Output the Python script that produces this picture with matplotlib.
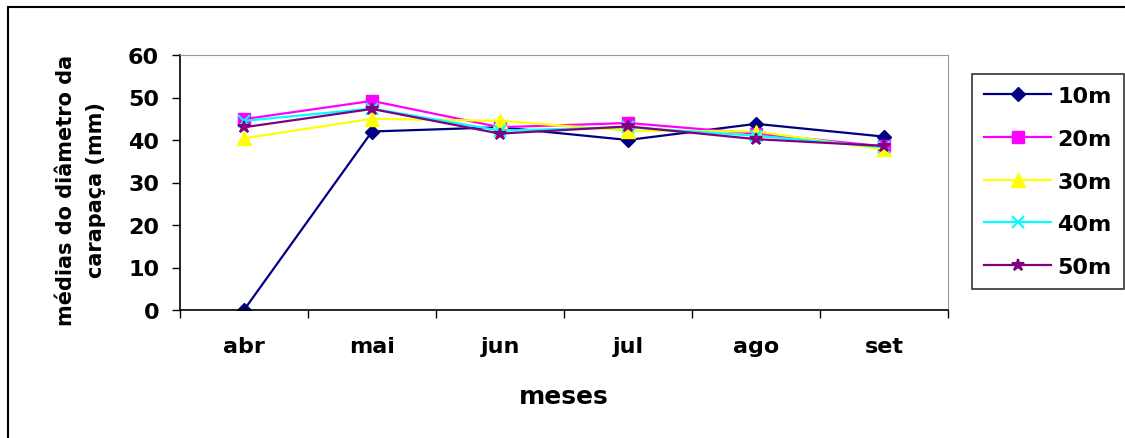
import matplotlib
matplotlib.use("Agg")
import matplotlib.pyplot as plt
from matplotlib.patches import Rectangle

plt.rcParams['font.family'] = ['DejaVu Sans']

months = ['abr', 'mai', 'jun', 'jul', 'ago', 'set']
depths = ['10m', '20m', '30m', '40m', '50m']
d10 = [0.0, 42.0, 43.0, 40.0, 43.8, 40.8]
d20 = [44.9, 49.2, 43.0, 44.0, 41.5, 38.5]
d30 = [40.4, 45.0, 44.5, 42.2, 42.0, 37.8]
d40 = [44.5, 47.4, 42.2, 43.0, 41.0, 38.3]
d50 = [43.0, 47.3, 41.5, 43.2, 40.2, 38.6]

series = [d10, d20, d30, d40, d50]
colors = ['#000080', '#FF00FF', '#FFFF00', '#00FFFF', '#800080']
markers = ['D', 's', '^', 'x', '*']
msizes = [7, 9, 10, 8, 9]

W, H = 1125, 439
fig = plt.figure(figsize=(W / 100, H / 100), dpi=100)

# outer frame (open at the right and bottom edges)
fig.patches.append(Rectangle((8 / W, -5 / H), 1130 / W, 436 / H, transform=fig.transFigure,
                             fill=False, edgecolor='black', linewidth=1.5))

ax = fig.add_axes([180 / W, 1 - 311 / H, 768 / W, 255 / H])
x = list(range(len(months)))
for vals, c, m, ms, lab in zip(series, colors, markers, msizes, depths):
    ax.plot(x, vals, color=c, marker=m, markersize=ms, linewidth=1.6,
            markeredgewidth=1.5 if m in ('x', '*') else 1.0, label=lab)

ax.set_xlim(-0.5, len(months) - 0.5)
ax.set_ylim(0, 60)
ax.set_yticks(range(0, 61, 10))
ax.set_yticklabels([str(v) for v in range(0, 61, 10)], fontsize=16, fontweight='bold')
ax.set_xticks(x)
ax.set_xticklabels(months, fontsize=16, fontweight='bold')
ax.set_xticks([i - 0.5 for i in range(len(months) + 1)], minor=True)
ax.tick_params(axis='x', which='major', length=0, pad=19)
ax.tick_params(axis='x', which='minor', length=6, width=1, direction='out')
ax.tick_params(axis='y', length=6, width=1, direction='out', pad=9)

for s in ('top', 'right'):
    ax.spines[s].set_color('#999999')
for s in ('left', 'bottom'):
    ax.spines[s].set_color('black')
    ax.spines[s].set_linewidth(1.2)

ax.set_xlabel('meses', fontsize=18, fontweight='bold', labelpad=20)
fig.text(81 / W, 1 - 190 / H, 'médias do diâmetro da\ncarapaça (mm)', rotation=90,
         ha='center', va='center', fontsize=15, fontweight='bold', linespacing=1.6)

leg = ax.legend(loc='upper left', bbox_to_anchor=(972 / W, 1 - 75 / H),
                bbox_transform=fig.transFigure, frameon=True, fancybox=False,
                edgecolor='black', prop={'size': 16, 'weight': 'bold'},
                handlelength=3.0, labelspacing=1.02, borderpad=0.55,
                handletextpad=0.3, borderaxespad=0)
leg.get_frame().set_linewidth(1.2)

fig.savefig('out.png', dpi=100)
